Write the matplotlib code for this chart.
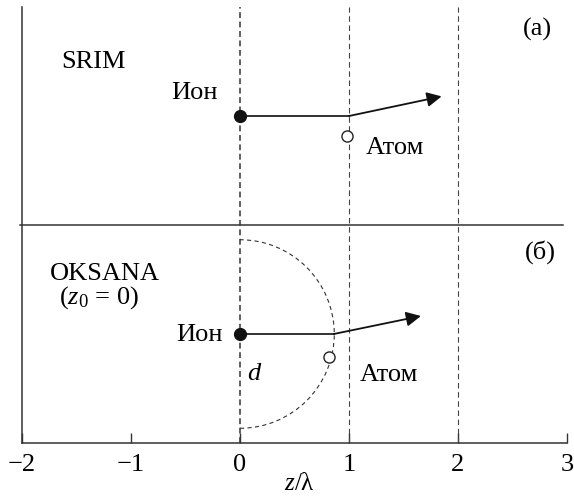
import matplotlib.pyplot as plt
from matplotlib.patches import Arc

plt.rcParams['font.family'] = ['Liberation Serif', 'DejaVu Serif']
plt.rcParams['mathtext.fontset'] = 'custom'
plt.rcParams['mathtext.rm'] = 'Liberation Serif'
plt.rcParams['mathtext.it'] = 'Liberation Serif:italic'
plt.rcParams['lines.scale_dashes'] = False

# данные схемы: (a) SRIM сверху, (б) OKSANA снизу
panel_y = [3.0, 1.0]          # высота траектории иона
bend_x = [1.0, 0.86]          # точка излома траектории
arrow_x = [1.85, 1.66]        # конец стрелки
arrow_y = [3.18, 1.165]
atom_x = [0.98, 0.817]        # атом (пустой кружок)
atom_y = [2.82, 0.79]
d_radius = 0.865              # радиус d (OKSANA)
planes = [0, 1, 2]            # атомные плоскости z/λ
xticks = [-2, -1, 0, 1, 2, 3]

fig = plt.figure(figsize=(5.74, 4.99), dpi=100)
ax = fig.add_axes([22 / 574, 56 / 499, 545 / 574, 436 / 499])
ax.set_xlim(-2, 3)
ax.set_ylim(0, 4)

for s in ['top', 'right']:
    ax.spines[s].set_visible(False)
for s in ['left', 'bottom']:
    ax.spines[s].set_linewidth(1.1)
    ax.spines[s].set_color('#333333')

# атомные плоскости
for p in planes:
    if p == 0:
        ax.plot([p, p], [0, 4], color='#333333', lw=1.1, dashes=(4.2, 2.6))
    else:
        ax.plot([p, p], [0, 4], color='#444444', lw=0.8, dashes=(4, 2.6))

# разделительная линия
ax.plot([-2.02, 2.96], [2, 2], color='#333333', lw=1.1, clip_on=False)

# сфера радиуса d
ax.add_patch(Arc((0, panel_y[1]), 2 * d_radius, 2 * d_radius, theta1=-90, theta2=90,
                 color='#333333', lw=0.8, linestyle=(0, (3, 2.4))))

for i in range(2):
    ax.plot([0, bend_x[i]], [panel_y[i], panel_y[i]], color='#222222', lw=1.3)
    ax.annotate('', xy=(arrow_x[i], arrow_y[i]), xytext=(bend_x[i], panel_y[i]),
                arrowprops=dict(arrowstyle='-|>', color='#111111', lw=1.3,
                                mutation_scale=22, shrinkA=0, shrinkB=0))
    ax.plot(0, panel_y[i], 'o', color='#111111', ms=8.5, zorder=5)
    ax.plot(atom_x[i], atom_y[i], 'o', mfc='white', mec='#222222', mew=1.0, ms=8, zorder=5)

fs = 19
ax.text(2.73, 3.79, '(a)', fontsize=fs, ha='center', va='center')
ax.text(-1.34, 3.5, 'SRIM', fontsize=fs, ha='center', va='center')
ax.text(-0.2, 3.21, 'Ион', fontsize=fs, ha='right', va='center')
ax.text(1.15, 2.71, 'Атом', fontsize=fs, ha='left', va='center')

ax.text(2.76, 1.75, '(б)', fontsize=fs, ha='center', va='center')
ax.text(-1.74, 1.55, 'OKSANA', fontsize=fs, ha='left', va='center')
ax.text(-1.66, 1.33, r'$(\mathit{z}_0\,=\,0)$', fontsize=fs, ha='left', va='center')
ax.text(-0.16, 0.99, 'Ион', fontsize=fs, ha='right', va='center')
ax.text(0.13, 0.63, 'd', fontsize=fs, ha='center', va='center', fontstyle='italic')
ax.text(1.10, 0.62, 'Атом', fontsize=fs, ha='left', va='center')

ax.set_yticks([])
ax.set_xticks(xticks)
ax.set_xticklabels([str(t).replace('-', '\u2212') for t in xticks])
ax.tick_params(axis='x', direction='in', length=7, width=1.0, color='#333333',
               labelsize=fs, pad=8)
ax.set_xlabel(r'$\mathit{z}$/λ', fontsize=18)
ax.xaxis.set_label_coords(0.51, -0.068)

plt.savefig('out.png', dpi=100)
plt.close()
